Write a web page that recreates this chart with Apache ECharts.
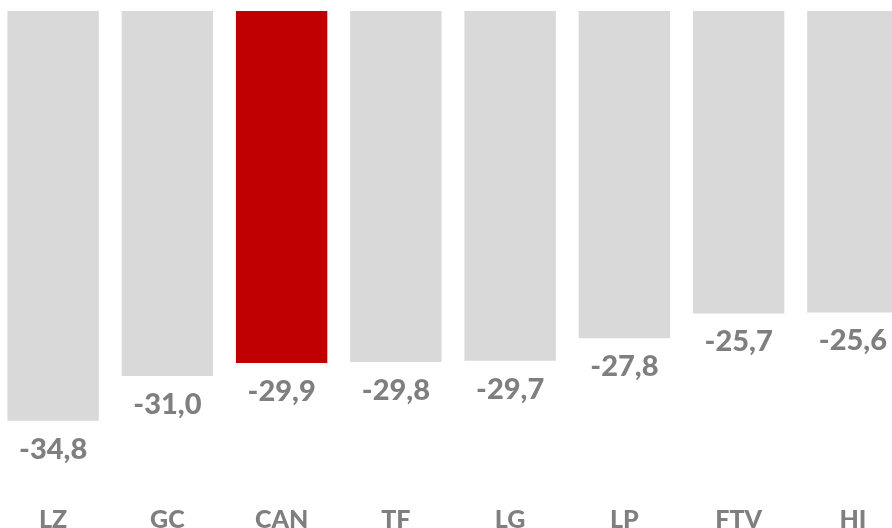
<!DOCTYPE html>
<html>
<head>
<meta charset="utf-8">
<script src="https://cdn.jsdelivr.net/npm/echarts@6/dist/echarts.min.js"></script>
<style>
  html, body { margin: 0; padding: 0; background: #fff; }
  #chart { width: 892px; height: 528px; }
</style>
</head>
<body>
<div id="chart"></div>
<script>
let regiones = ['LZ', 'GC', 'CAN', 'TF', 'LG', 'LP', 'FTV', 'HI'];
let valores = [-34.8, -31.0, -29.9, -29.8, -29.7, -27.8, -25.7, -25.6];
let destacado = 'CAN';

let datos = valores.map(function (v, i) {
    return {
        value: v,
        itemStyle: { color: regiones[i] == destacado ? '#c00000' : '#d9d9d9' }
    };
});

let myChart = echarts.init(document.getElementById('chart'));
let option = {
    animation: false,
    grid: {
        left: -4,
        top: 11,
        width: 914,
        height: 471,
        containLabel: false,
        outerBoundsMode: 'none'
    },
    xAxis: {
        type: 'category',
        data: regiones,
        position: 'bottom',
        axisLine: { show: false, onZero: false },
        axisTick: { show: false },
        axisLabel: {
            margin: 25,
            color: '#7f7f7f',
            fontSize: 25,
            fontWeight: 900,
            fontFamily: 'Lato'
        }
    },
    yAxis: {
        type: 'value',
        min: -40,
        max: 0,
        show: false,
        splitLine: { show: false }
    },
    series: [
        {
            type: 'bar',
            data: datos,
            barCategoryGap: '20%',
            label: {
                show: true,
                position: 'bottom',
                distance: 14,
                color: '#7f7f7f',
                fontSize: 29,
                fontWeight: 900,
                fontFamily: 'Lato',
                formatter: function (p) {
                    return p.value.toFixed(1).replace('.', ',');
                }
            }
        }
    ]
};
myChart.setOption(option);
</script>
</body>
</html>
